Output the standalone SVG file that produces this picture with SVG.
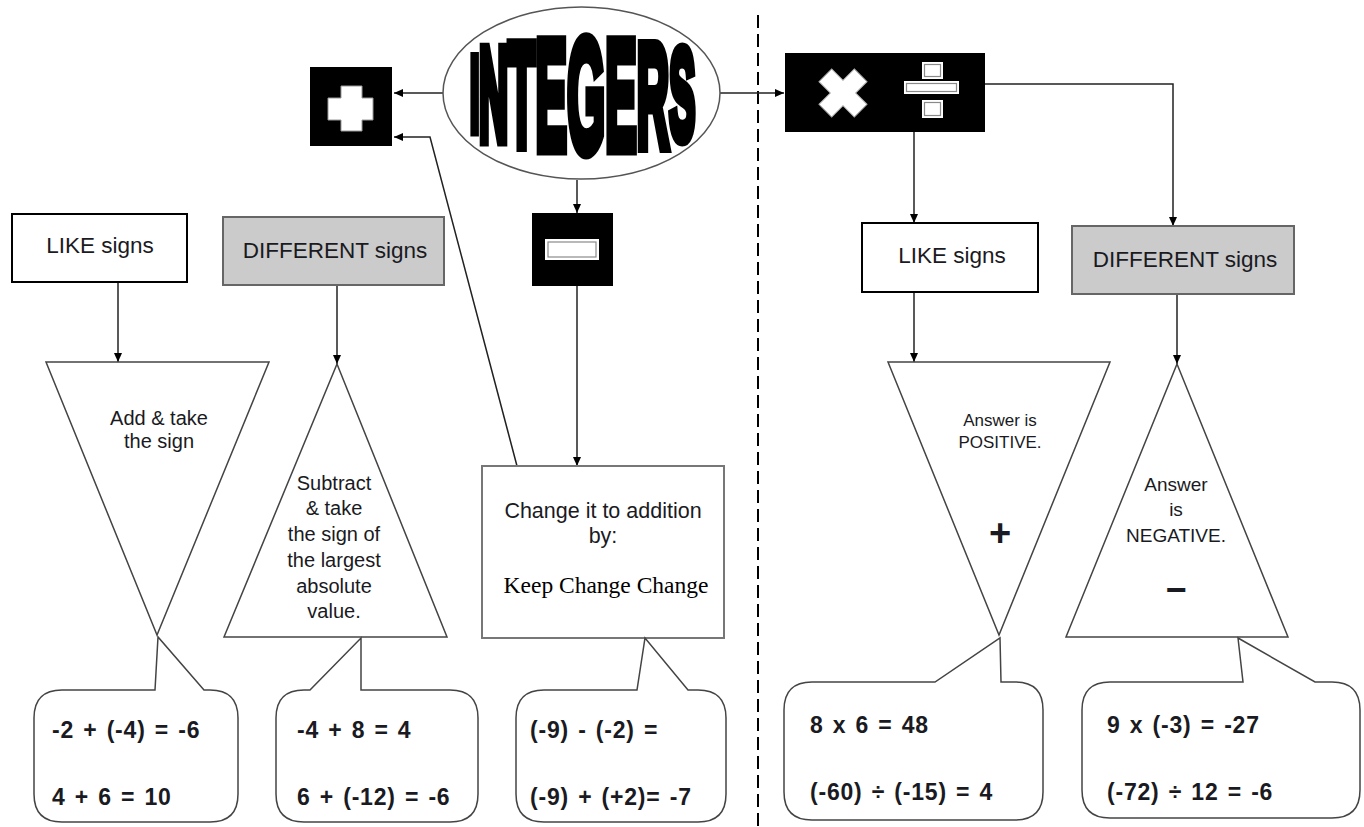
<svg xmlns="http://www.w3.org/2000/svg" width="1364" height="827" viewBox="0 0 1364 827">
<defs>
<marker id="ah" markerWidth="10" markerHeight="10" refX="9" refY="5" orient="auto" markerUnits="userSpaceOnUse"><path d="M0,1 L9,5 L0,9 Z" fill="#000"/></marker>
<style>
.t{font-family:"Liberation Sans",Arial,sans-serif;fill:#1a1a22}
.lbl{font-size:22.5px;text-anchor:middle}
.tri{fill:#fff;stroke:#444;stroke-width:1.5}
.bub{fill:#fff;stroke:#444;stroke-width:1.5}
.eq{font-size:23px;font-weight:bold;letter-spacing:0.8px;word-spacing:2px}
.tt{font-size:20px;text-anchor:middle}
.con{fill:none;stroke:#222;stroke-width:1.5}
.inner{fill:#fff;stroke:#8a8a8a;stroke-width:1.2}
</style>
</defs>
<rect width="1364" height="827" fill="#fff"/>

<g id="divider"><line x1="758" y1="15" x2="758" y2="827" stroke="#000" stroke-width="2" stroke-dasharray="13 6"/></g>

<g id="connectors">
<line class="con" x1="443" y1="93" x2="394" y2="93" marker-end="url(#ah)"/>
<polyline class="con" points="517,466 430,137 394,137" marker-end="url(#ah)"/>
<line class="con" x1="577" y1="180" x2="577" y2="213" marker-end="url(#ah)"/>
<line class="con" x1="577" y1="286" x2="577" y2="466" marker-end="url(#ah)"/>
<line class="con" x1="720" y1="93" x2="784" y2="93" marker-end="url(#ah)"/>
<line class="con" x1="914" y1="132" x2="914" y2="223" marker-end="url(#ah)"/>
<polyline class="con" points="985,84 1173,84 1173,226" marker-end="url(#ah)"/>
<line class="con" x1="118" y1="282" x2="118" y2="362" marker-end="url(#ah)"/>
<line class="con" x1="337" y1="285" x2="337" y2="364" marker-end="url(#ah)"/>
<line class="con" x1="914" y1="292" x2="914" y2="362" marker-end="url(#ah)"/>
<line class="con" x1="1177" y1="294" x2="1177" y2="364" marker-end="url(#ah)"/>
</g>

<g id="integers">
<ellipse cx="581.5" cy="93" rx="138.5" ry="86" fill="#fff" stroke="#555" stroke-width="1.5"/>
<g transform="translate(469,0) scale(0.305,1)">
<text x="4" font-family="Liberation Sans, Arial, sans-serif" font-weight="bold" fill="#000" stroke="#000" stroke-width="13" stroke-linejoin="miter"><tspan font-size="104" y="130">I</tspan><tspan font-size="132" y="140.5">N</tspan><tspan font-size="147" y="146">T</tspan><tspan font-size="155" y="149">E</tspan><tspan font-size="161" y="151">G</tspan><tspan font-size="155" y="149">E</tspan><tspan font-size="147" y="146">R</tspan><tspan font-size="128" y="139">S</tspan></text>
</g>
</g>

<g id="plus-op">
<rect x="310" y="67" width="82" height="79" fill="#000"/>
<path d="M341,86 H362 V98 H373 V120 H362 V131 H341 V120 H328 V98 H341 Z" fill="#fff" stroke="#999" stroke-width="1"/>
</g>

<g id="minus-op">
<rect x="532" y="213" width="81" height="73" fill="#000"/>
<rect x="545" y="239" width="54" height="21" fill="#fff"/>
<rect x="548" y="242" width="48" height="15" class="inner"/>
</g>

<g id="muldiv-op">
<rect x="785" y="53" width="200" height="79" fill="#000"/>
<g transform="translate(843,93) rotate(45)"><path d="M-9,-25 H9 V-9 H25 V9 H9 V25 H-9 V9 H-25 V-9 H-9 Z" fill="#fff" stroke="#aaa" stroke-width="1"/></g>
<rect x="922" y="62" width="21" height="17" fill="#fff"/><rect x="924.5" y="64.5" width="16" height="12" class="inner"/>
<rect x="904" y="81" width="55" height="13" fill="#fff"/><rect x="906.5" y="83.5" width="50" height="8" class="inner"/>
<rect x="922" y="100" width="21" height="18" fill="#fff"/><rect x="924.5" y="102.5" width="16" height="13" class="inner"/>
</g>

<g id="like-add">
<rect x="12" y="214" width="175" height="68" fill="#fff" stroke="#000" stroke-width="2"/>
<text class="t lbl" x="100" y="253">LIKE signs</text>
</g>
<g id="diff-add">
<rect x="223" y="217" width="221" height="68" fill="#cbcbcb" stroke="#666" stroke-width="2"/>
<text class="t lbl" x="335" y="258">DIFFERENT signs</text>
</g>

<g id="add-rule">
<polygon class="tri" points="46,362 269,362 157,635"/>
<text class="t tt" x="159" y="425">Add &amp; take</text>
<text class="t tt" x="159" y="448">the sign</text>
</g>
<g id="sub-rule">
<polygon class="tri" points="337,364 447,637 224,637"/>
<text class="t tt" x="334" y="490">Subtract</text>
<text class="t tt" x="334" y="515">&amp; take</text>
<text class="t tt" x="334" y="541">the sign of</text>
<text class="t tt" x="334" y="567">the largest</text>
<text class="t tt" x="334" y="593">absolute</text>
<text class="t tt" x="334" y="618">value.</text>
</g>

<g id="change-box">
<rect x="482" y="466" width="242" height="172" fill="#fff" stroke="#777" stroke-width="2"/>
<text class="t" x="603" y="518" font-size="21.5" text-anchor="middle">Change it to addition</text>
<text class="t" x="603" y="543" font-size="21.5" text-anchor="middle">by:</text>
<text x="606" y="593" font-family="Liberation Serif, Times New Roman, serif" font-size="23.5" text-anchor="middle" fill="#000">Keep Change Change</text>
</g>

<g id="like-mul">
<rect x="862" y="223" width="176" height="69" fill="#fff" stroke="#000" stroke-width="2"/>
<text class="t lbl" x="952" y="263">LIKE signs</text>
</g>
<g id="diff-mul">
<rect x="1072" y="226" width="222" height="68" fill="#cbcbcb" stroke="#666" stroke-width="2"/>
<text class="t lbl" x="1185" y="267">DIFFERENT signs</text>
</g>

<g id="positive-rule">
<polygon class="tri" points="888,362 1110,362 999,635"/>
<text class="t" x="1000" y="426" font-size="17" text-anchor="middle">Answer is</text>
<text class="t" x="1000" y="448" font-size="17" text-anchor="middle">POSITIVE.</text>
<text class="t" x="1000" y="546" font-size="38" font-weight="bold" text-anchor="middle">+</text>
</g>
<g id="negative-rule">
<polygon class="tri" points="1177,364 1288,637 1066,637"/>
<text class="t" x="1176" y="491" font-size="19" text-anchor="middle">Answer</text>
<text class="t" x="1176" y="516" font-size="19" text-anchor="middle">is</text>
<text class="t" x="1176" y="542" font-size="19" text-anchor="middle">NEGATIVE.</text>
<text class="t" x="1176" y="602" font-size="36" font-weight="bold" text-anchor="middle">−</text>
</g>

<g id="ex-like-add">
<path class="bub" d="M62,690 L155,690 L158,637 L204,690 L210,690 Q238,690 238,718 L238,794 Q238,822 210,822 L62,822 Q34,822 34,794 L34,718 Q34,690 62,690 Z"/>
<text class="t eq" x="52" y="738">-2 + (-4) = -6</text>
<text class="t eq" x="52" y="805">4 + 6 = 10</text>
</g>
<g id="ex-diff-add">
<path class="bub" d="M304,690 L310,690 L361,638 L361,690 L450,690 Q478,690 478,718 L478,794 Q478,822 450,822 L304,822 Q276,822 276,794 L276,718 Q276,690 304,690 Z"/>
<text class="t eq" x="297" y="738">-4 + 8 = 4</text>
<text class="t eq" x="297" y="805">6 + (-12) = -6</text>
</g>
<g id="ex-sub">
<path class="bub" d="M544,690 L637,690 L645,638 L688,690 L698,690 Q726,690 726,718 L726,794 Q726,822 698,822 L544,822 Q516,822 516,794 L516,718 Q516,690 544,690 Z"/>
<text class="t eq" x="530" y="738">(-9) - (-2) =</text>
<text class="t eq" x="530" y="805">(-9) + (+2)= -7</text>
</g>
<g id="ex-like-mul">
<path class="bub" d="M812,682 L935,682 L1000,638 L1001,682 L1015,682 Q1043,682 1043,710 L1043,792 Q1043,820 1015,820 L812,820 Q784,820 784,792 L784,710 Q784,682 812,682 Z"/>
<text class="t eq" x="810" y="733">8 x 6 = 48</text>
<text class="t eq" x="810" y="800">(-60) ÷ (-15) = 4</text>
</g>
<g id="ex-diff-mul">
<path class="bub" d="M1110,682 L1243,682 L1238,638 L1315,682 L1332,682 Q1360,682 1360,710 L1360,790 Q1360,818 1332,818 L1110,818 Q1082,818 1082,790 L1082,710 Q1082,682 1110,682 Z"/>
<text class="t eq" x="1107" y="733">9 x (-3) = -27</text>
<text class="t eq" x="1107" y="800">(-72) ÷ 12 = -6</text>
</g>
</svg>
